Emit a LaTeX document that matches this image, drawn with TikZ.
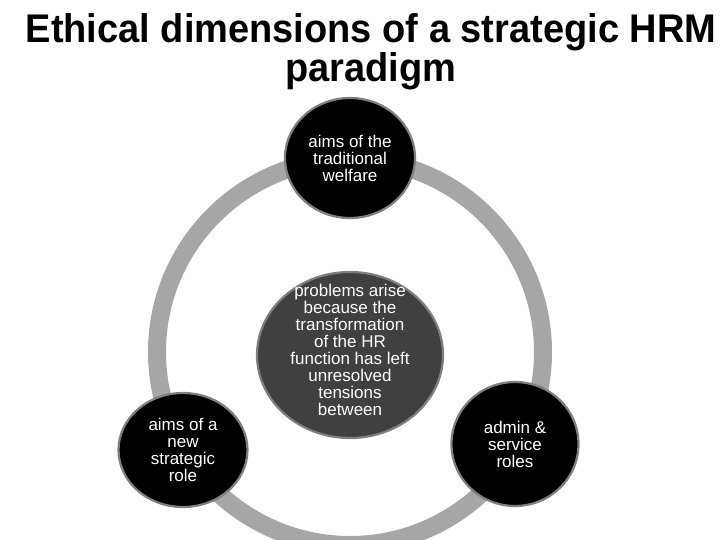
\documentclass[tikz,border=0pt]{standalone}
\usepackage{fontspec}
\setmainfont{Liberation Sans}
\newfontfamily\titlefont[FakeStretch=0.95]{Liberation Sans}
\usepackage{xcolor}
\usetikzlibrary{shapes.geometric,positioning}

\definecolor{ringgray}{HTML}{A6A6A6}
\definecolor{rimgray}{HTML}{7F7F7F}
\definecolor{coregray}{HTML}{404040}

\begin{document}
\begin{tikzpicture}[
    x=1pt, y=-1pt,
    aim/.style={ellipse, draw=rimgray, line width=2.2pt, fill=black, text=white, inner sep=0pt,
        align=center, font=\fontsize{17}{17}\selectfont},
    core/.style={aim, fill=coregray},
    ring/.style={draw=ringgray, line width=18pt},
    heading/.style={align=center, font=\titlefont\bfseries\fontsize{40}{39}\selectfont}
]
    \useasboundingbox (0,0) rectangle (720,540);

    % Title
    \node[heading, anchor=base] (title) at (371,82) {Ethical dimensions of a strategic HRM\\paradigm};

    % Ring
    \draw[ring] (350,352) circle (193);

    % Centre
    \node[core, minimum width=186pt, minimum height=166pt] (core) at (350,355) {};
    \node[align=center, text=white, font=\fontsize{17}{17}\selectfont] (coretext) at (350,350)
        {problems arise\\because the\\transformation\\of the HR\\function has left\\unresolved\\tensions\\between};

    % Aims on the ring
    \node[aim, minimum width=130pt, minimum height=120pt] (welfare) at (350,158) {aims of the\\traditional\\welfare};
    \node[aim, minimum width=129pt, minimum height=114pt] (strategic) at (183,450) {aims of a\\new\\strategic\\role};
    \node[aim, minimum width=127pt, minimum height=124pt] (admin) at (515,444) {admin \&\\service\\roles};
\end{tikzpicture}
\end{document}
